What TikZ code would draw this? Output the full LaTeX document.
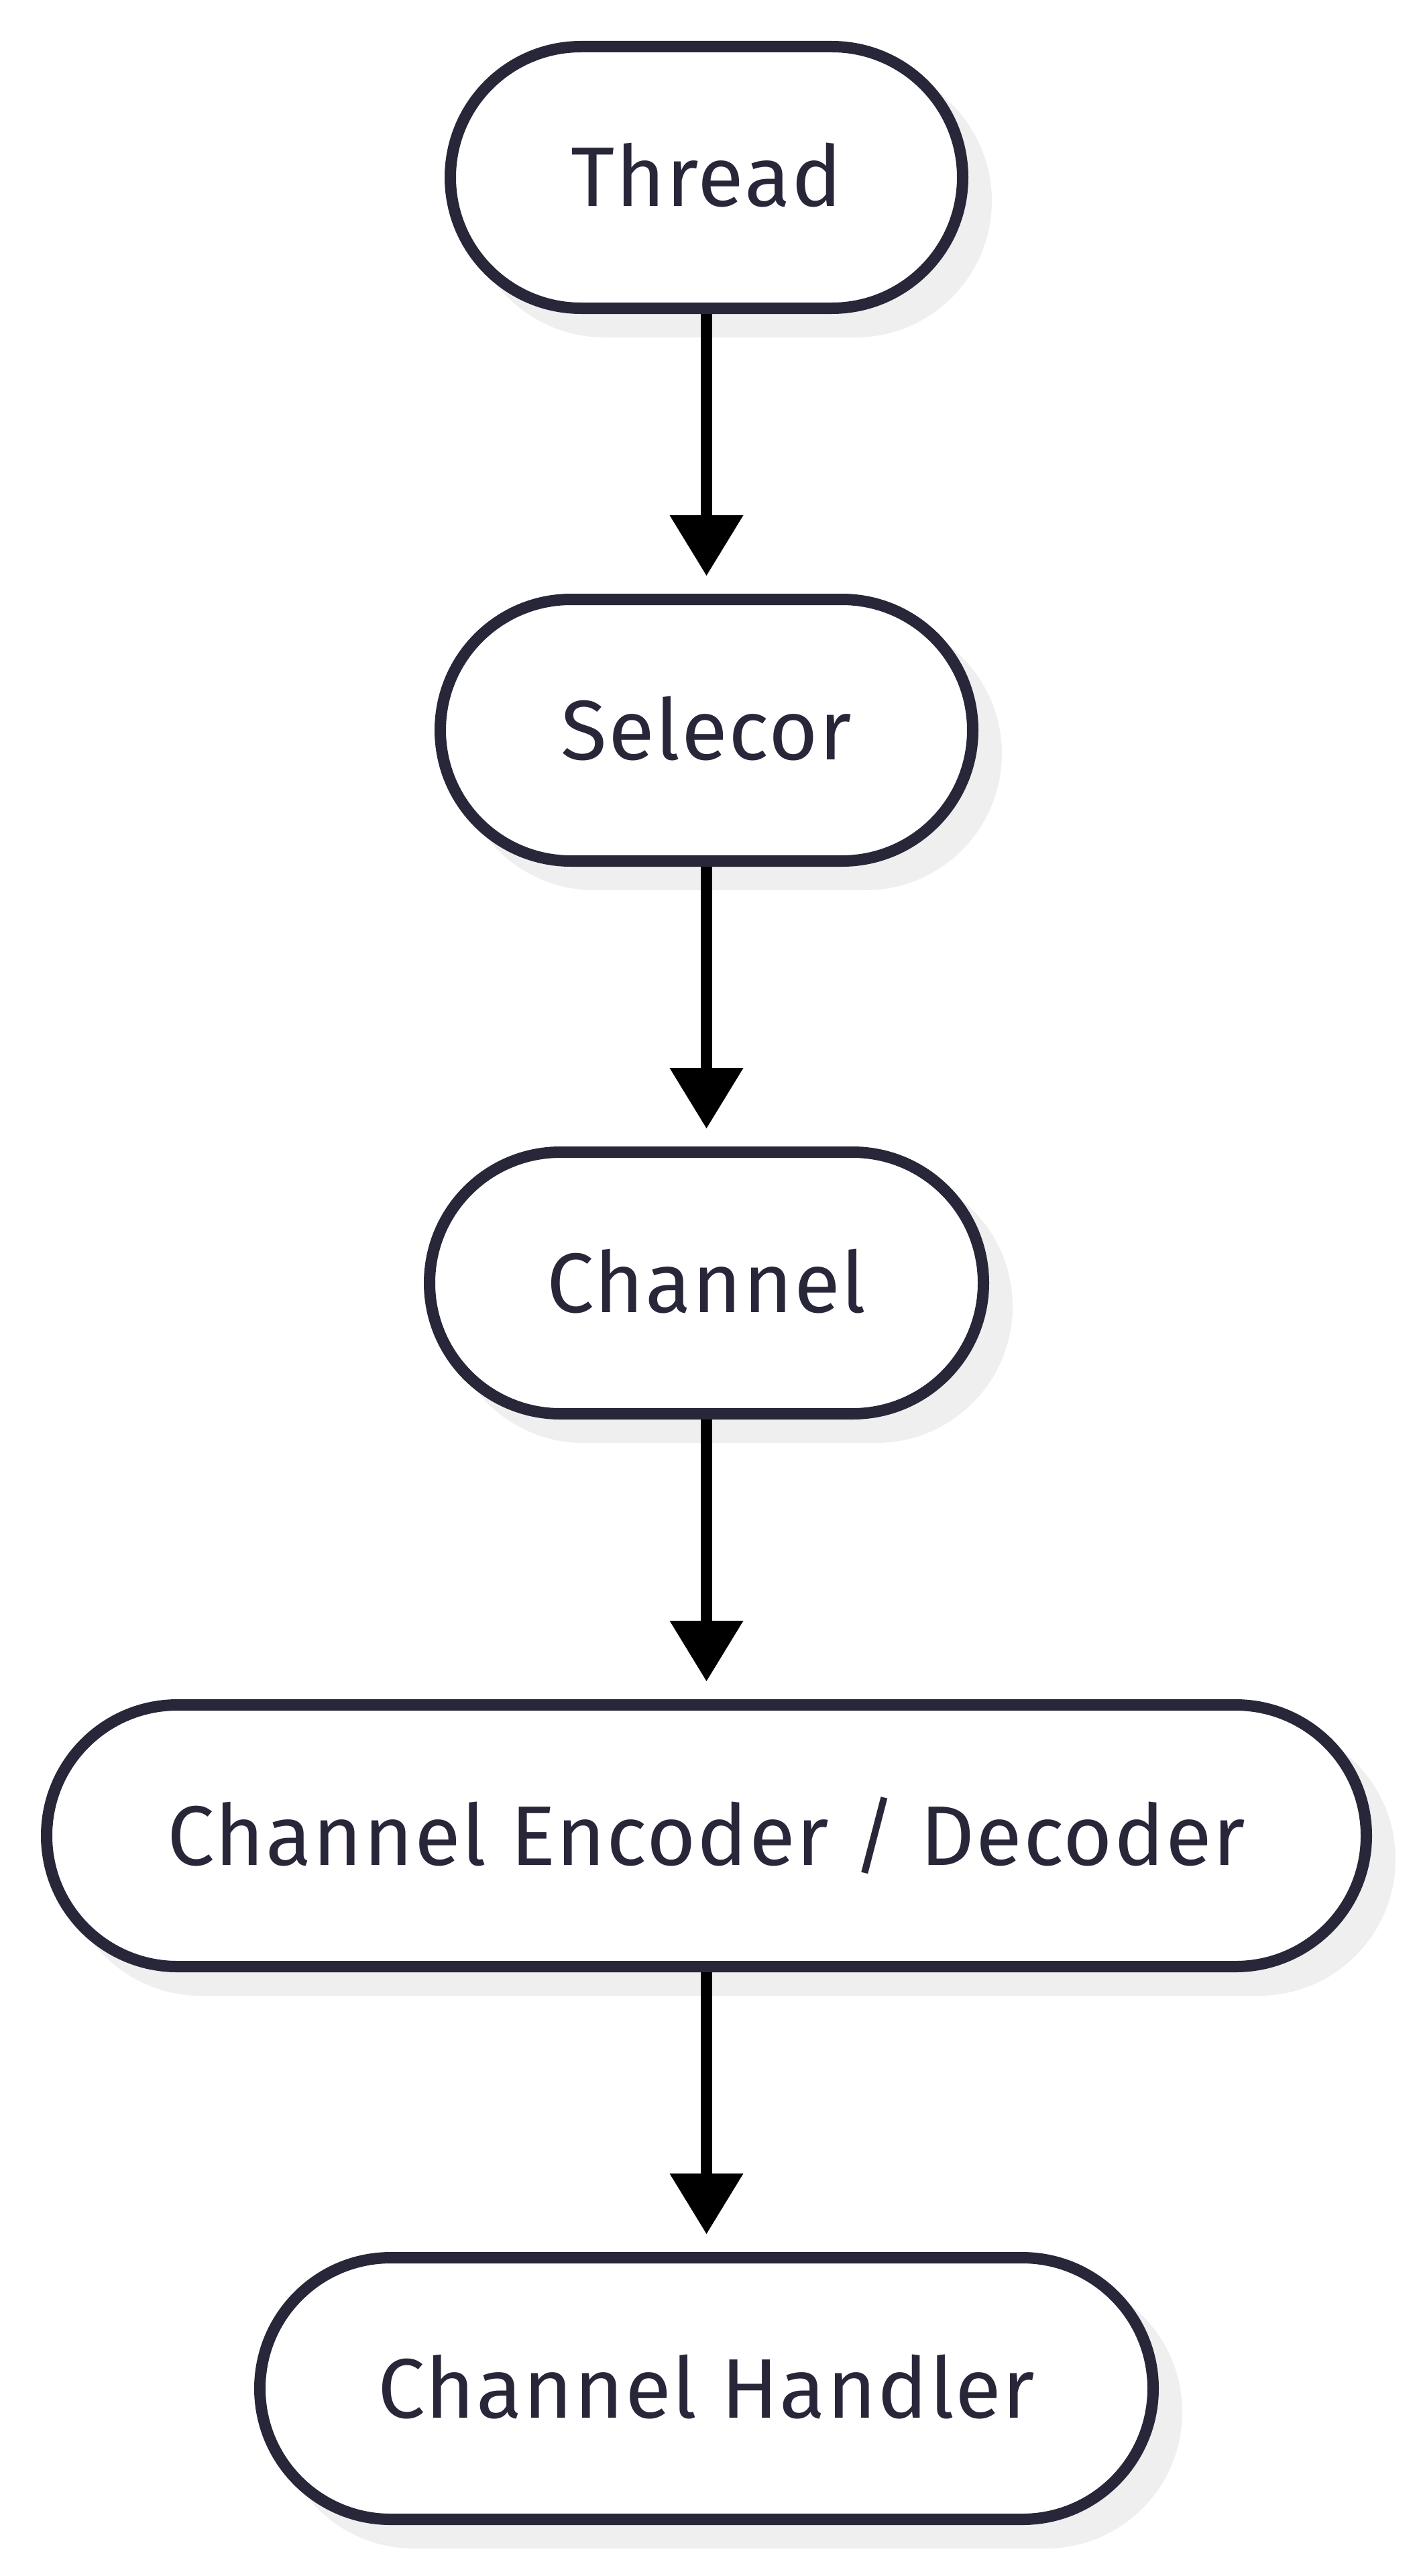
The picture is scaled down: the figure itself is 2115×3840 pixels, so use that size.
\documentclass[tikz,border=0pt]{standalone}
\usepackage{fontspec}
\newfontfamily\boxfont{Fira Sans}[LetterSpace=1.5]
\usetikzlibrary{arrows.meta,shadows}
\definecolor{edgeink}{HTML}{282739}
\definecolor{shadowgray}{HTML}{EFEFEF}

\begin{document}
\begin{tikzpicture}[x=1pt,y=1pt,
  every node/.style={font=\boxfont\fontsize{126}{150}\selectfont},
  stage/.style={draw=edgeink,text=edgeink,line width=17pt,fill=white,rounded corners=195pt,
    minimum height=390pt,text height=87pt,text depth=0pt,inner sep=0pt,
    general shadow={fill=shadowgray,draw=shadowgray,shadow xshift=35pt,shadow yshift=-35pt}},
  flow/.style={line width=17pt,-{Triangle[length=90pt,width=110pt,line width=0pt]},shorten >=27pt}]
 \useasboundingbox (0,0) rectangle (2115,-3840);
 \node[stage,minimum width=764pt] (thread) at (1053.5,-264.5) {Thread};
 \node[stage,minimum width=794pt] (selector) at (1053.5,-1088.5) {Selecor};
 \node[stage,minimum width=826pt] (channel) at (1053.5,-1912.5) {Channel};
 \node[stage,minimum width=1968pt] (codec) at (1053.5,-2736.5) {Channel Encoder / Decoder};
 \node[stage,minimum width=1332pt] (handler) at (1053.5,-3560.5) {Channel Handler};
 \foreach \a/\b in {thread/selector,selector/channel,channel/codec,codec/handler}
   \draw[flow] (\a.south)--(\b.north);
\end{tikzpicture}
\end{document}
